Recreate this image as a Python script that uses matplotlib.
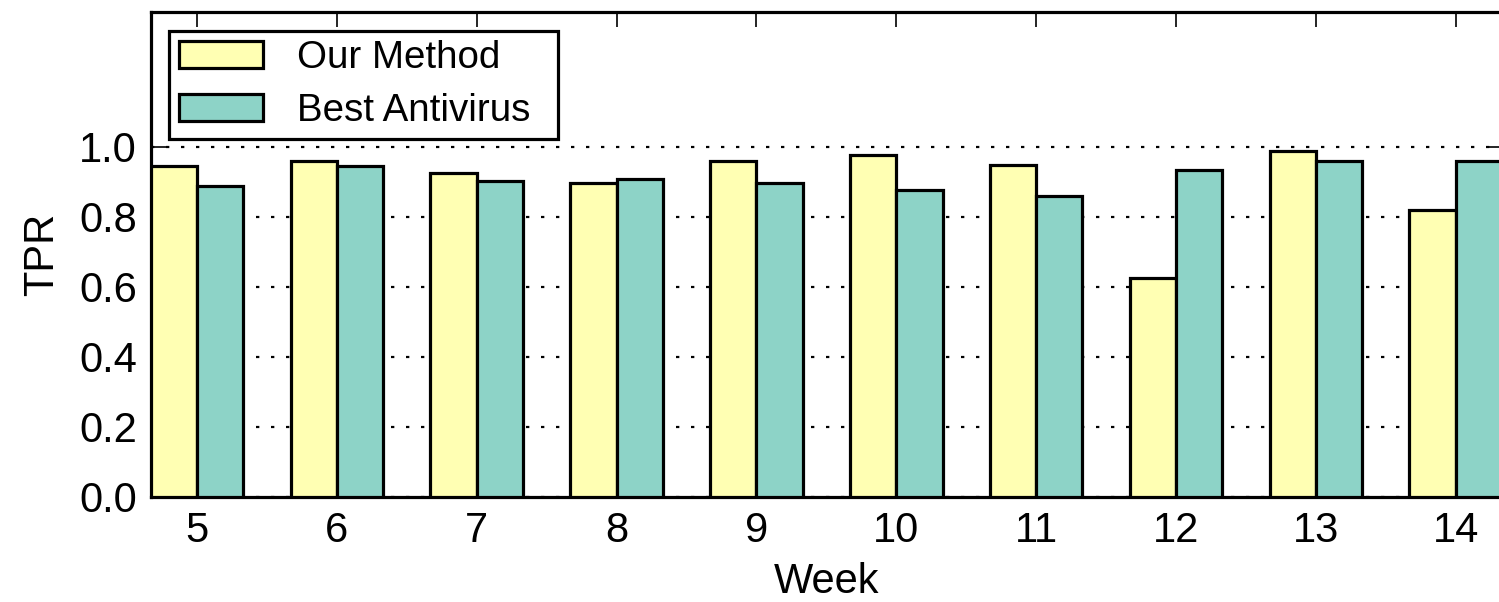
import matplotlib
matplotlib.use("Agg")
import matplotlib.pyplot as plt
import numpy as np

weeks = [5, 6, 7, 8, 9, 10, 11, 12, 13, 14]
our_method = [0.945, 0.960, 0.924, 0.897, 0.958, 0.975, 0.947, 0.624, 0.987, 0.820]
best_antivirus = [0.888, 0.945, 0.903, 0.907, 0.897, 0.877, 0.860, 0.934, 0.960, 0.958]
yticks = [0.0, 0.2, 0.4, 0.6, 0.8, 1.0]

plt.rcParams['font.family'] = ['Liberation Sans', 'DejaVu Sans']

fig = plt.figure(figsize=(14.99, 6.02), dpi=100)
ax = fig.add_axes([150.7 / 1499, (602 - 497) / 602, (1502 - 150.7) / 1499, (497 - 12) / 602])

w = 0.331
x = np.array(weeks, dtype=float)
ax.bar(x - w / 2, our_method, width=w, color='#FFFFB3', edgecolor='black', linewidth=2.3,
       label='Our Method', zorder=3)
ax.bar(x + w / 2, best_antivirus, width=w, color='#8DD3C7', edgecolor='black', linewidth=2.3,
       label='Best Antivirus', zorder=3)

ax.set_xlim(weeks[0] - w, weeks[-1] + w)
ax.set_ylim(0, 1.384)
ax.set_xticks(weeks)
ax.set_xticklabels([str(v) for v in weeks])
ax.set_yticks(yticks)
ax.set_yticklabels([f"{v:.1f}" for v in yticks])

ax.yaxis.grid(True, color='black', linestyle=(0, (1.5, 5.25)), linewidth=1.6, zorder=0)
ax.xaxis.grid(False)
ax.set_axisbelow(True)

ax.tick_params(axis='both', which='major', direction='in', length=11, width=1.2,
               labelsize=30, top=True, right=True, pad=10)
for s in ax.spines.values():
    s.set_linewidth(2.3)

ax.set_xlabel('Week', fontsize=30, labelpad=8)
ax.set_ylabel('TPR', fontsize=30, labelpad=12)

leg = ax.legend(loc='upper left', bbox_to_anchor=(0.01354, 0.5, 0.2879, 0.4614),
                mode='expand', fontsize=27.7,
                frameon=True, fancybox=False, edgecolor='black', framealpha=1,
                handlelength=2.2, handleheight=0.7, handletextpad=0.87,
                borderpad=0.25, labelspacing=0.44, borderaxespad=0)
leg.get_frame().set_linewidth(2.3)

fig.savefig('out.png', dpi=100)
